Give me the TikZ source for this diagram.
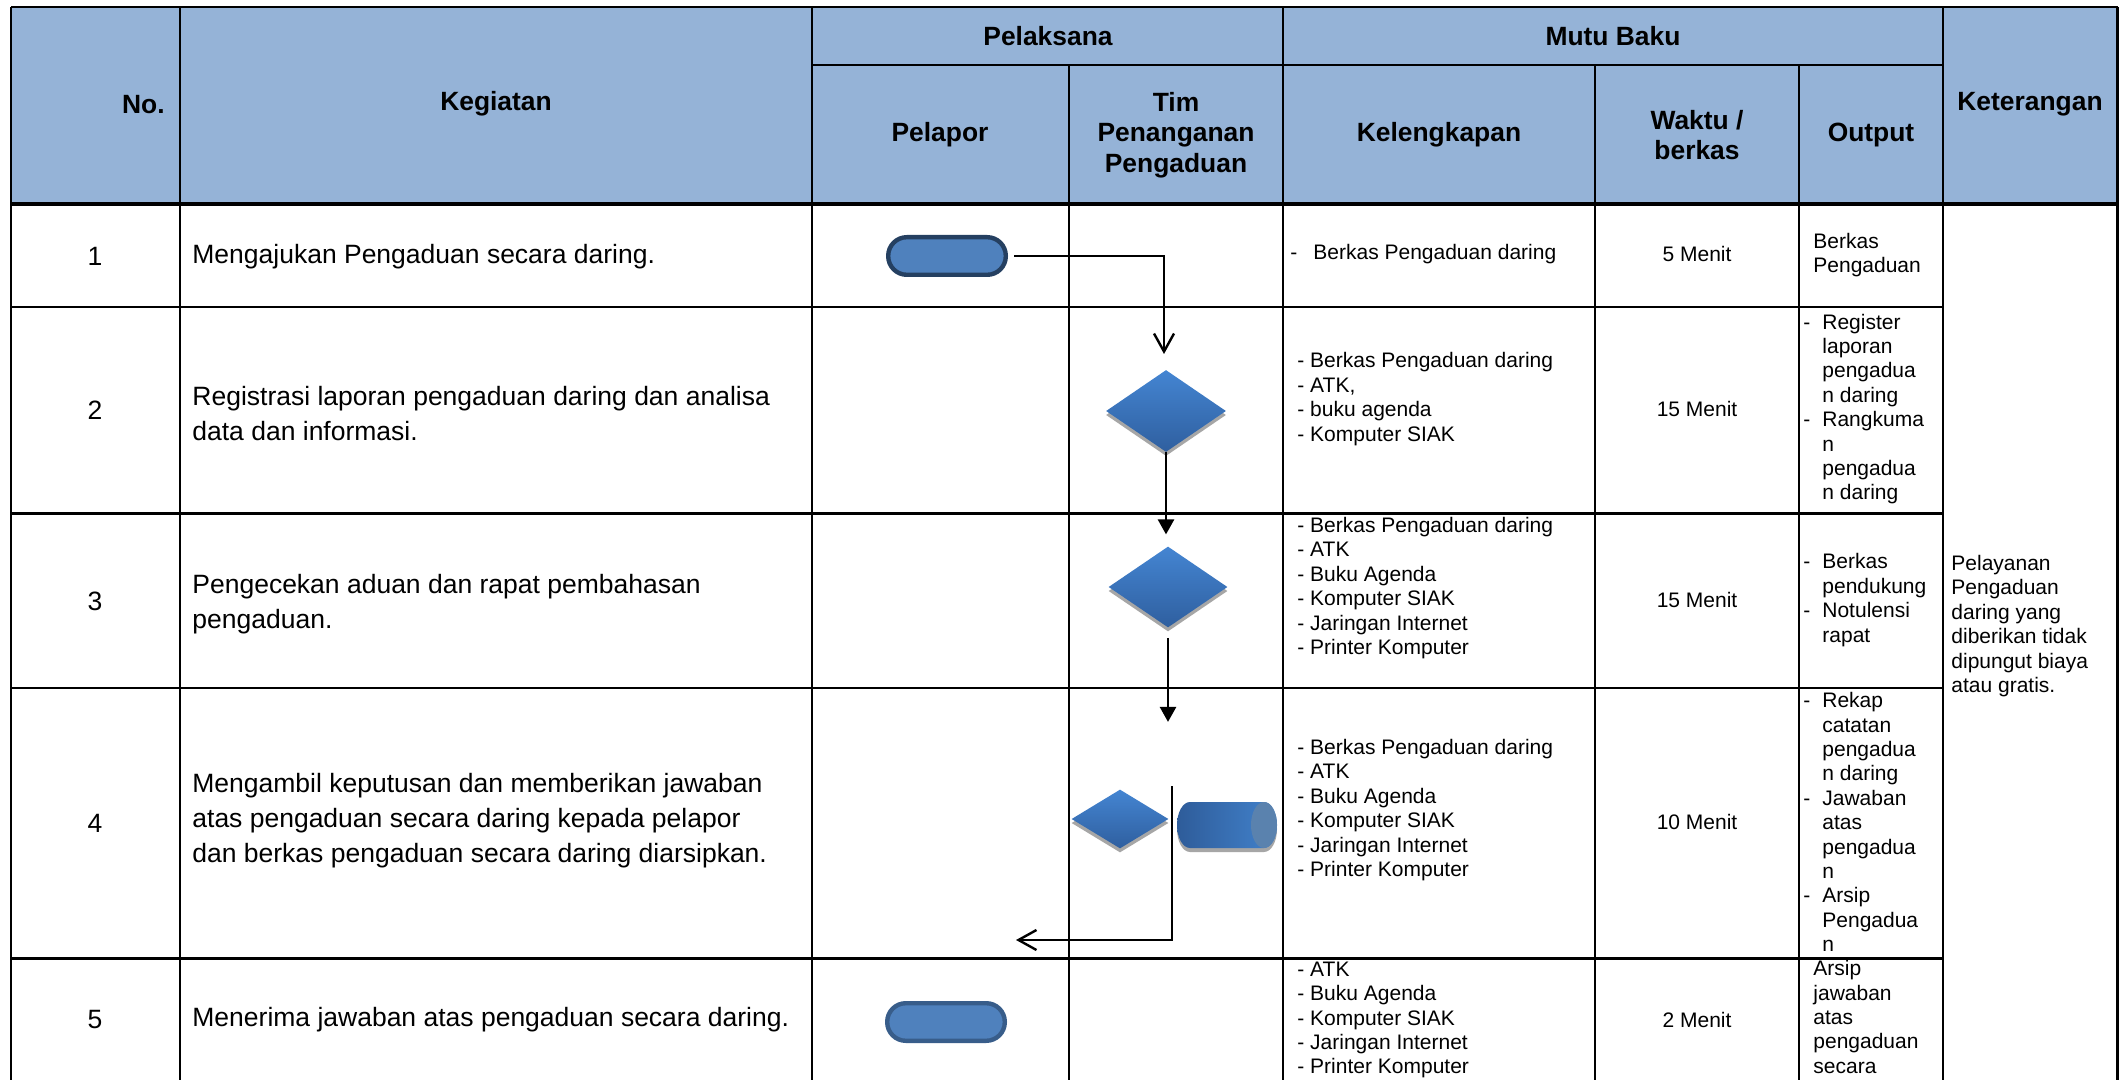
\documentclass[tikz,border=0pt]{standalone}
\usepackage{fontspec}
\setmainfont{Liberation Sans}
\usepackage{tikz}
\usetikzlibrary{arrows.meta, shapes.geometric, shadows}

\definecolor{hdblue}{HTML}{95B3D7}
\definecolor{termfill}{HTML}{4F81BD}
\definecolor{termdark}{HTML}{254061}
\definecolor{termline}{HTML}{385D8A}
\definecolor{decTop}{HTML}{4485D2}
\definecolor{decBot}{HTML}{2F5F9F}
\definecolor{cylL}{HTML}{2E5C9A}
\definecolor{cylR}{HTML}{4282CC}
\definecolor{cylEnd}{HTML}{5A82AE}

\newcommand{\dashit}{\makebox[9.5pt][l]{-}}
\newcommand{\hangit}{\makebox[9.5pt]{}}
% horizontal drum (archive) in row 4
\newcommand{\drumpath}{(1190,802) -- (1264,802)
  arc[start angle=-90, end angle=90, x radius=13, y radius=23] -- (1190,848)
  arc[start angle=90, end angle=270, x radius=13, y radius=23] -- cycle}

\begin{document}
\begin{tikzpicture}[x=0.5pt, y=-0.5pt,
  grid/.style={line width=1.4pt},
  hd/.style={inner sep=0pt, align=center, font=\bfseries\fontsize{13.2}{15.3}\selectfont},
  act/.style={inner sep=0pt, align=left, anchor=west, font=\fontsize{13.25}{17.5}\selectfont},
  cell/.style={inner sep=0pt, align=left, anchor=west, font=\fontsize{10.5}{12.2}\selectfont},
  num/.style={inner sep=0pt, font=\fontsize{13.25}{16}\selectfont},
  term/.style={draw, line width=2.2pt, fill=termfill, rounded corners=9.3pt,
               minimum width=58.8pt, minimum height=18.8pt, inner sep=0pt},
  dec/.style={diamond, inner sep=0pt, top color=decTop, bottom color=decBot,
              drop shadow={shadow xshift=0pt, shadow yshift=-2pt, fill=black!35, opacity=1}},
  tri/.style={-{Triangle[length=7.5pt, width=8pt]}, line width=1.3pt},
  barb/.style={-{Straight Barb[length=9pt, width=10pt]}, line width=1.2pt}
]
\fill[white] (0,0) rectangle (2119,1080);
\useasboundingbox (0,0) rectangle (2119,1080);

% header band and grid
\fill[hdblue] (11,7) rectangle (2117.5,204);
\draw[grid] (11,7) -- (2117.5,7);
\draw[grid] (812,65) -- (1943,65);
\draw[line width=2pt] (11,204) -- (2117.5,204);
\foreach \y in {307,513.5,688,958.5}
  \draw[grid] (11,\y) -- (1943,\y);
\foreach \x in {11,180,812,1283,1943,2117.5}
  \draw[grid] (\x,7) -- (\x,1085);
\foreach \x in {1069,1595,1799}
  \draw[grid] (\x,65) -- (\x,1085);

% header texts
\node[hd, anchor=east] (hno) at (165,105) {No.};
\node[hd] (hkeg) at (496,104) {Kegiatan};
\node[hd] (hpel) at (1048,36) {Pelaksana};
\node[hd] (hmutu) at (1613,36) {Mutu Baku};
\node[hd] (hlapor) at (940,135) {Pelapor};
\node[hd] (htim) at (1176,135) {Tim\\Penanganan\\Pengaduan};
\node[hd] (hkel) at (1439,135) {Kelengkapan};
\node[hd] (hwaktu) at (1697,135) {Waktu /\\berkas};
\node[hd] (hout) at (1871,135) {Output};
\node[hd] (hket) at (2030,104) {Keterangan};

% numbers and activities
\foreach \n/\y in {1/256,2/410,3/601,4/823,5/1020}
  \node[num] (no\n) at (95,\y) {\n};
\node[act] (keg1) at (192,257) {Mengajukan Pengaduan secara daring.};
\node[act] (keg2) at (192,414) {Registrasi laporan pengaduan daring dan analisa\\data dan informasi.};
\node[act] (keg3) at (192,604) {Pengecekan aduan dan rapat pembahasan\\pengaduan.};
\node[act] (keg4) at (192,821) {Mengambil keputusan dan memberikan jawaban\\atas pengaduan secara daring kepada pelapor\\dan berkas pengaduan secara daring diarsipkan.};
\node[act] (keg5) at (192,1020) {Menerima jawaban atas pengaduan secara daring.};

% kelengkapan
\node[cell] (kel1) at (1290,254) {\makebox[11.5pt][l]{-}Berkas Pengaduan daring};
\node[cell] (kel2) at (1297,399) {- Berkas Pengaduan daring\\- ATK,\\- buku agenda\\- Komputer SIAK};
\node[cell] (kel3) at (1297,588) {- Berkas Pengaduan daring\\- ATK\\- Buku Agenda\\- Komputer SIAK\\- Jaringan Internet\\- Printer Komputer};
\node[cell] (kel4) at (1297,810) {- Berkas Pengaduan daring\\- ATK\\- Buku Agenda\\- Komputer SIAK\\- Jaringan Internet\\- Printer Komputer};
\node[cell] (kel5) at (1297,1020) {- ATK\\- Buku Agenda\\- Komputer SIAK\\- Jaringan Internet\\- Printer Komputer};

% waktu
\foreach \t/\y [count=\i] in {5 Menit/254,15 Menit/409,15 Menit/600,10 Menit/822,2 Menit/1020}
  \node[cell, anchor=center] (wk\i) at (1697,\y) {\t};

% output
\node[cell] (out1) at (1813,255) {Berkas\\Pengaduan};
\node[cell] (out2) at (1803,409) {\dashit Register\\\hangit laporan\\\hangit pengadua\\\hangit n daring\\\dashit Rangkuma\\\hangit n\\\hangit pengadua\\\hangit n daring};
\node[cell] (out3) at (1803,600) {\dashit Berkas\\\hangit pendukung\\\dashit Notulensi\\\hangit rapat};
\node[cell] (out4) at (1803,822) {\dashit Rekap\\\hangit catatan\\\hangit pengadua\\\hangit n daring\\\dashit Jawaban\\\hangit atas\\\hangit pengadua\\\hangit n\\\dashit Arsip\\\hangit Pengadua\\\hangit n};
\node[cell] (out5) at (1813,1017) {Arsip\\jawaban\\atas\\pengaduan\\secara};

% keterangan
\node[cell] (ket) at (1951,626) {Pelayanan\\Pengaduan\\daring yang\\diberikan tidak\\dipungut biaya\\atau gratis.};

% flow shapes
\node[term, draw=termdark] (t1) at (947,256) {};
\node[term, draw=termline] (t5) at (946,1022) {};
\node[dec, minimum width=60pt, minimum height=41pt] (d2) at (1166,411) {};
\node[dec, minimum width=59.5pt, minimum height=40.5pt] (d3) at (1168,587) {};
\node[dec, minimum width=48.5pt, minimum height=29.5pt] (d4) at (1120,819) {};
\fill[black!35, yshift=-2pt] \drumpath;
\shade[left color=cylL, right color=cylR] \drumpath;
\fill[cylEnd] (1264,825) ellipse [x radius=13, y radius=23];

% connectors
\coordinate (a1e) at (1164,354);
\coordinate (a4s) at (1172,786);
\coordinate (a4e) at (1016,940);
\draw[barb] ([xshift=3pt]t1.east) -| (a1e);
\draw[tri] (d2.south) -- ++(0,82);
\draw[tri] ([yshift=-5pt]d3.south) -- ++(0,84);
\draw[barb] (a4s) |- (a4e);
\end{tikzpicture}
\end{document}
